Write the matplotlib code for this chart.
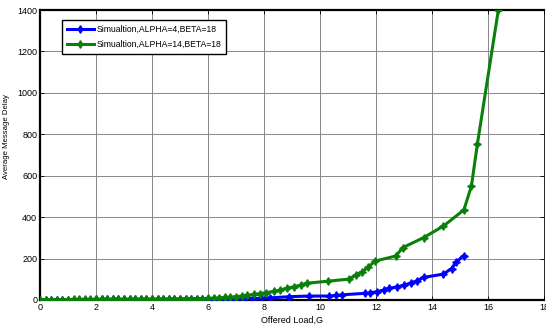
import matplotlib
matplotlib.use("Agg")
import matplotlib.pyplot as plt

plt.rcParams['font.family'] = ['Liberation Sans', 'DejaVu Sans']

# Series: ALPHA=4, BETA=18 (blue)
g_blue = [0.0, 0.2, 0.4, 0.6, 0.8, 1.0, 1.2, 1.4, 1.6, 1.8, 2.0, 2.2, 2.4, 2.6, 2.8,
          3.0, 3.2, 3.4, 3.6, 3.8, 4.0, 4.2, 4.4, 4.6, 4.8, 5.0, 5.2, 5.4, 5.6, 5.8,
          6.0, 6.2, 6.4, 6.6, 6.8, 7.0, 7.3, 7.6, 7.9, 8.2, 8.9, 9.6, 10.33, 10.57,
          10.79, 11.59, 11.8, 12.04, 12.28, 12.48, 12.76, 13.0, 13.24, 13.47, 13.7,
          14.41, 14.7, 14.87, 15.13]
d_blue = [2, 2, 2, 2, 2, 2, 2, 2, 2, 2, 3, 3, 3, 3, 3,
          3, 3, 3, 3, 3, 3, 3, 3, 3, 4, 4, 4, 4, 4, 4,
          4, 5, 5, 5, 5, 6, 6, 7, 8, 10, 16, 19, 19, 22,
          25, 32, 35, 40, 48, 56, 64, 70, 82, 93, 109,
          125, 152, 184, 214]

# Series: ALPHA=14, BETA=18 (green)
g_green = [0.0, 0.2, 0.4, 0.6, 0.8, 1.0, 1.2, 1.4, 1.6, 1.8, 2.0, 2.2, 2.4, 2.6, 2.8,
           3.0, 3.2, 3.4, 3.6, 3.8, 4.0, 4.2, 4.4, 4.6, 4.8, 5.0, 5.2, 5.4, 5.6, 5.8,
           6.0, 6.2, 6.4, 6.6, 6.8, 7.0, 7.2, 7.4, 7.65, 7.86, 8.08, 8.34, 8.58, 8.83,
           9.08, 9.32, 9.55, 10.3, 11.05, 11.29, 11.5, 11.71, 11.97, 12.7, 12.96,
           13.7, 14.41, 15.14, 15.41, 15.62, 16.37]
d_green = [2, 2, 2, 2, 2, 2, 3, 3, 3, 3, 3, 3, 3, 3, 3,
           3, 3, 4, 4, 4, 4, 4, 4, 5, 5, 5, 6, 6, 7, 7,
           8, 9, 10, 12, 14, 16, 19, 22, 27, 31, 35, 41, 48, 57,
           64, 72, 81, 91, 101, 122, 135, 158, 188, 212, 253,
           301, 357, 435, 551, 752, 1400]

labels = ['Simualtion,ALPHA=4,BETA=18', 'Simualtion,ALPHA=14,BETA=18']
x_ticks = [0, 2, 4, 6, 8, 10, 12, 14, 16, 18]
y_ticks = [0, 200, 400, 600, 800, 1000, 1200, 1400]

fig = plt.figure(figsize=(5.46, 3.26), dpi=100)
ax = fig.add_axes([0.0733, 0.0798, 0.9230, 0.8895])

mk = (4, 1, 0)
ax.plot(g_blue, d_blue, color='#0000ff', lw=2.2, marker=mk, ms=5.5, label=labels[0], zorder=3)
ax.plot(g_green, d_green, color='#0a800a', lw=2.2, marker=mk, ms=5.5, label=labels[1], zorder=4)

ax.set_xlim(0, 18)
ax.set_ylim(0, 1400)
ax.set_xticks(x_ticks)
ax.set_yticks(y_ticks)
ax.tick_params(direction='in', labelsize=6.5, top=True, right=True, length=3, width=0.6, pad=2)
ax.grid(True, color='#888888', lw=0.7)
ax.set_axisbelow(True)

for side in ['left', 'bottom', 'top']:
    ax.spines[side].set_linewidth(1.6)
ax.spines['right'].set_linewidth(0.6)

ax.set_xlabel('Offered Load,G', fontsize=6.5, labelpad=3)
ax.set_ylabel('Average Message Delay', fontsize=5.6)
ax.yaxis.set_label_coords(-0.060, 0.562)

leg = ax.legend(loc='upper left', bbox_to_anchor=(0.044, 0.966), fontsize=6.2, frameon=True,
                fancybox=False, edgecolor='black', framealpha=1, handlelength=3.1,
                borderpad=0.55, labelspacing=0.75, handletextpad=0.3, borderaxespad=0)
leg.get_frame().set_linewidth(1.0)

fig.savefig('out.png', dpi=100)
